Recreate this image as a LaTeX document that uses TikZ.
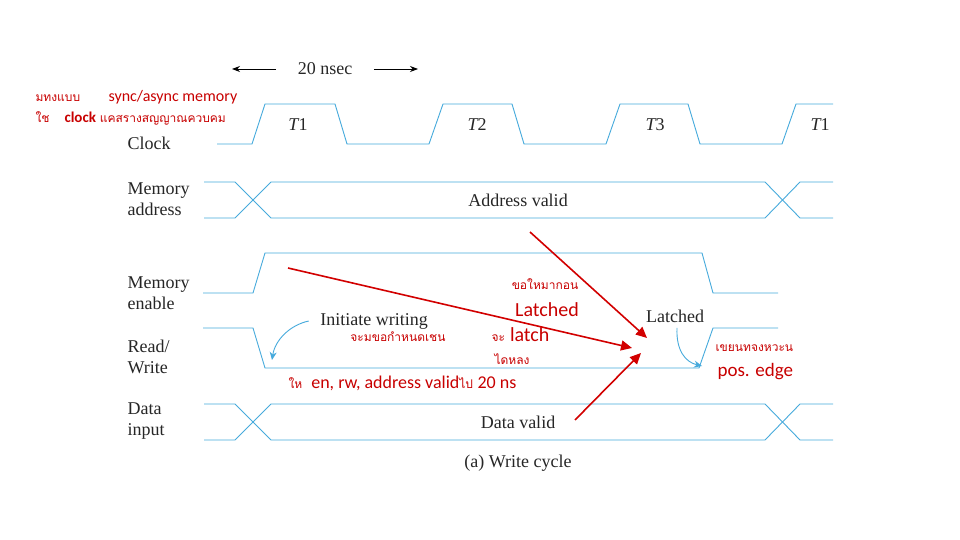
\documentclass[tikz,border=0pt]{standalone}
\usepackage{fontspec}
\setmainfont{Liberation Serif}
\newfontfamily\redf{Carlito}
\newfontfamily\thaifont[Script=Thai]{Loma}
\usetikzlibrary{arrows.meta}
\begin{document}
\begin{tikzpicture}[x=1pt,y=-1pt,
  wave/.style={draw={rgb,255:red,70;green,170;blue,220},line width=0.9pt},
  lbl/.style={anchor=west,align=left,font=\fontsize{18}{21}\selectfont,text=black!85},
  inl/.style={font=\fontsize{18}{18}\selectfont,text=black!85},
  red/.style={text={rgb,255:red,200;green,0;blue,0}},
  rarr/.style={draw={rgb,255:red,210;green,0;blue,0},line width=1.6pt,-{Triangle[length=11pt,width=10pt]}},
  barr/.style={draw={rgb,255:red,70;green,170;blue,220},line width=0.9pt,-{Stealth[length=8pt,width=7pt]}}]
\useasboundingbox[fill=white] (0,0) rectangle (960,540);
% waveforms
\draw[wave] (217,144)--(252,144)--(265,104)--(335,104)--(347,144)--(429,144)--(443,104)--(512,104)--(524,144)--(606,144)--(620,104)--(688,104)--(700,144)--(782,144)--(796,104)--(833,104);
\draw[wave] (204,182)--(235,182)--(271,218)--(765,218)--(800,182)--(833,182);
\draw[wave] (204,218)--(235,218)--(271,182)--(765,182)--(800,218)--(833,218);
\draw[wave] (203,293)--(253,293)--(265,253)--(702,253)--(713,293)--(778,293);
\draw[wave] (203,328)--(253,328)--(265,368)--(699,368)--(713,328)--(778,328);
\draw[wave] (204,404)--(235,404)--(271,440)--(765,440)--(800,404)--(833,404);
\draw[wave] (204,440)--(235,440)--(271,404)--(765,404)--(800,440)--(833,440);
% row labels
\node[lbl] (lclk) at (124,143) {Clock};
\node[lbl] (ladr) at (124,199) {Memory\\address};
\node[lbl] (len) at (124,293) {Memory\\enable};
\node[lbl] (lrw) at (124,357) {Read/\\Write};
\node[lbl] (ldi) at (124,421) {Data\\input};
\node[inl] (t1) at (298,125) {\itshape T\upshape 1};
\node[inl] (t2) at (477,125) {\itshape T\upshape 2};
\node[inl] (t3) at (655,125) {\itshape T\upshape 3};
\node[inl] (t4) at (820,125) {\itshape T\upshape 1};
\node[inl] (av) at (518,200) {Address valid};
\node[inl] (dv) at (518,422) {Data valid};
\node[inl] (iw) at (374,321) {Initiate writing};
\node[inl] (lt) at (675,316) {Latched};
\node[inl] (cap) at (518,463) {(a) Write cycle};
\node[inl] (ns) at (325,69) {20 nsec};
\coordinate (nl) at (232,69); \coordinate (nr) at (418,69);
\draw[-{Stealth[length=8pt]},line width=0.8pt] (ns.west)++(-18,0) -- (nl);
\draw[-{Stealth[length=8pt]},line width=0.8pt] (ns.east)++(18,0) -- (nr);
% blue arrows
\coordinate (iwe) at (272,360); \coordinate (lte) at (702,366);
\draw[barr] (iw.west)++(-8,0) .. controls (290,325) and (275,340) .. (iwe);
\draw[barr] (lt.south)++(2,2) .. controls (676,350) and (685,362) .. (lte);
% red text
\node[red,font=\thaifont\fontsize{12}{12}\selectfont,anchor=west] (r1) at (32,98) {มทงแบบ};
\node[red,font=\redf\fontsize{16}{16}\selectfont,anchor=west] (r2) at (105,97) {sync/async memory};
\node[red,font=\fontsize{15}{15}\selectfont,anchor=west] (r3) at (32,118) {{\thaifont\fontsize{12}{12}\selectfont ใช}\quad{\redf\bfseries clock} {\thaifont\fontsize{12}{12}\selectfont แคสรางสญญาณควบคม}};
\node[red,font=\thaifont\fontsize{12}{12}\selectfont] (r4) at (545,284) {ขอใหมากอน};
\node[red,font=\redf\fontsize{20}{20}\selectfont] (r5) at (547,310) {Latched};
\node[red,font=\thaifont\fontsize{12}{12}\selectfont] (r6) at (398,337) {จะมขอกำหนดเชน};
\node[red,font=\fontsize{20}{20}\selectfont,anchor=west] (r7) at (488,335) {{\thaifont\fontsize{12}{12}\selectfont จะ} {\redf latch}};
\node[red,font=\thaifont\fontsize{12}{12}\selectfont] (r8) at (512,359) {ไดหลง};
\node[red,font=\fontsize{18}{18}\selectfont,anchor=west] (r9) at (285,383) {{\thaifont\fontsize{12}{12}\selectfont ให}\ \ {\redf en, rw, address valid}{\thaifont\fontsize{12}{12}\selectfont ไป} {\redf 20 ns}};
\node[red,font=\thaifont\fontsize{12}{12}\selectfont,anchor=west] (r10) at (712,348) {เขยนทจงหวะน};
\node[red,font=\redf\fontsize{19}{19}\selectfont,anchor=west] (r11) at (714,372) {pos. edge};
% red arrows
\coordinate (a1s) at (288,268); \coordinate (a1e) at (632,348);
\coordinate (a2s) at (530,232); \coordinate (a2e) at (647,338);
\coordinate (a3s) at (575,420); \coordinate (a3e) at (641,353);
\draw[rarr] (a1s)--(a1e);
\draw[rarr] (a2s)--(a2e);
\draw[rarr] (a3s)--(a3e);
\end{tikzpicture}
\end{document}
